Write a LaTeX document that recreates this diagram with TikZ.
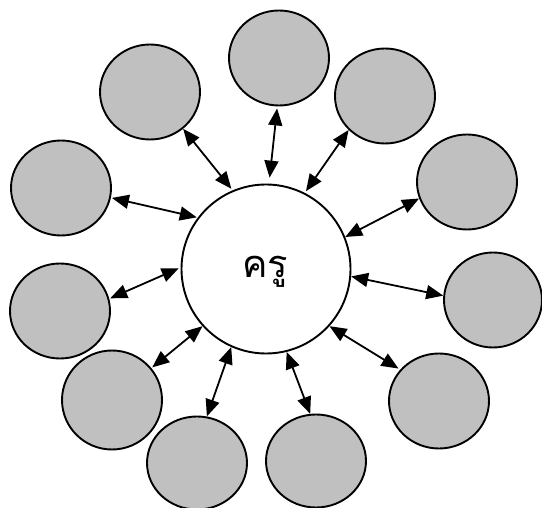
\documentclass[tikz,border=0pt]{standalone}
\usepackage{fontspec}
\newfontfamily\thaifont[Script=Thai]{Loma}
\usetikzlibrary{shapes.geometric,arrows.meta}
\definecolor{blobgray}{HTML}{C0C0C0}
\tikzset{
  blob/.style={ellipse,draw=black,line width=1.9pt,fill=blobgray,minimum width=100pt,minimum height=95pt,inner sep=0pt},
  hub/.style={circle,draw=black,line width=1.9pt,fill=white,minimum size=169pt,inner sep=0pt},
  link/.style={{Triangle[length=17pt,width=14pt]}-{Triangle[length=17pt,width=14pt]},line width=1.8pt}
}
\begin{document}
\begin{tikzpicture}[x=1pt,y=-1pt]
\useasboundingbox (0,0) rectangle (542,508);
\node[hub] (c) at (266,269) {};
\node[anchor=base,font=\thaifont\fontsize{38}{38}\selectfont] (t) at (265,278) {ครู};
\node[blob] (e1) at (279,58) {};
\node[blob] (e2) at (150,92) {};
\node[blob] (e3) at (385,96) {};
\node[blob] (e4) at (61,188) {};
\node[blob] (e5) at (467,182) {};
\node[blob] (e6) at (60,311) {};
\node[blob,minimum width=98pt] (e7) at (493,300) {};
\node[blob,minimum height=99pt] (e8) at (112,400) {};
\node[blob] (e9) at (439,401) {};
\node[blob,minimum height=93pt] (e10) at (197,463) {};
\node[blob,minimum height=93pt] (e11) at (316,461) {};
\draw[link,shorten <=6pt,shorten >=2pt] (c.88.8) -- (e1.-92.3);
\draw[link,shorten <=2pt] (c.113.4) -- (e2.-48.4);
\draw[link,shorten <=2pt] (c.63.1) -- (e3.223.3);
\draw[link,shorten <=1pt,shorten >=1pt] (c.143.5) -- (e4.-11.1);
\draw[link] (c.22.6) -- (e5.199.6);
\draw[link,shorten <=2pt,shorten >=1pt] (c.179.3) -- (e6.14.6);
\draw[link] (c.-5.4) -- (e7.175.2);
\draw[link,shorten >=1pt] (c.222.6) -- (e8.39.5);
\draw[link] (c.-114.7) -- (e10.78.7);
\draw[link] (c.-76.8) -- (e11.97.6);
\draw[link,shorten >=2pt] (c.-42.6) -- (e9.141.2);
\end{tikzpicture}
\end{document}
